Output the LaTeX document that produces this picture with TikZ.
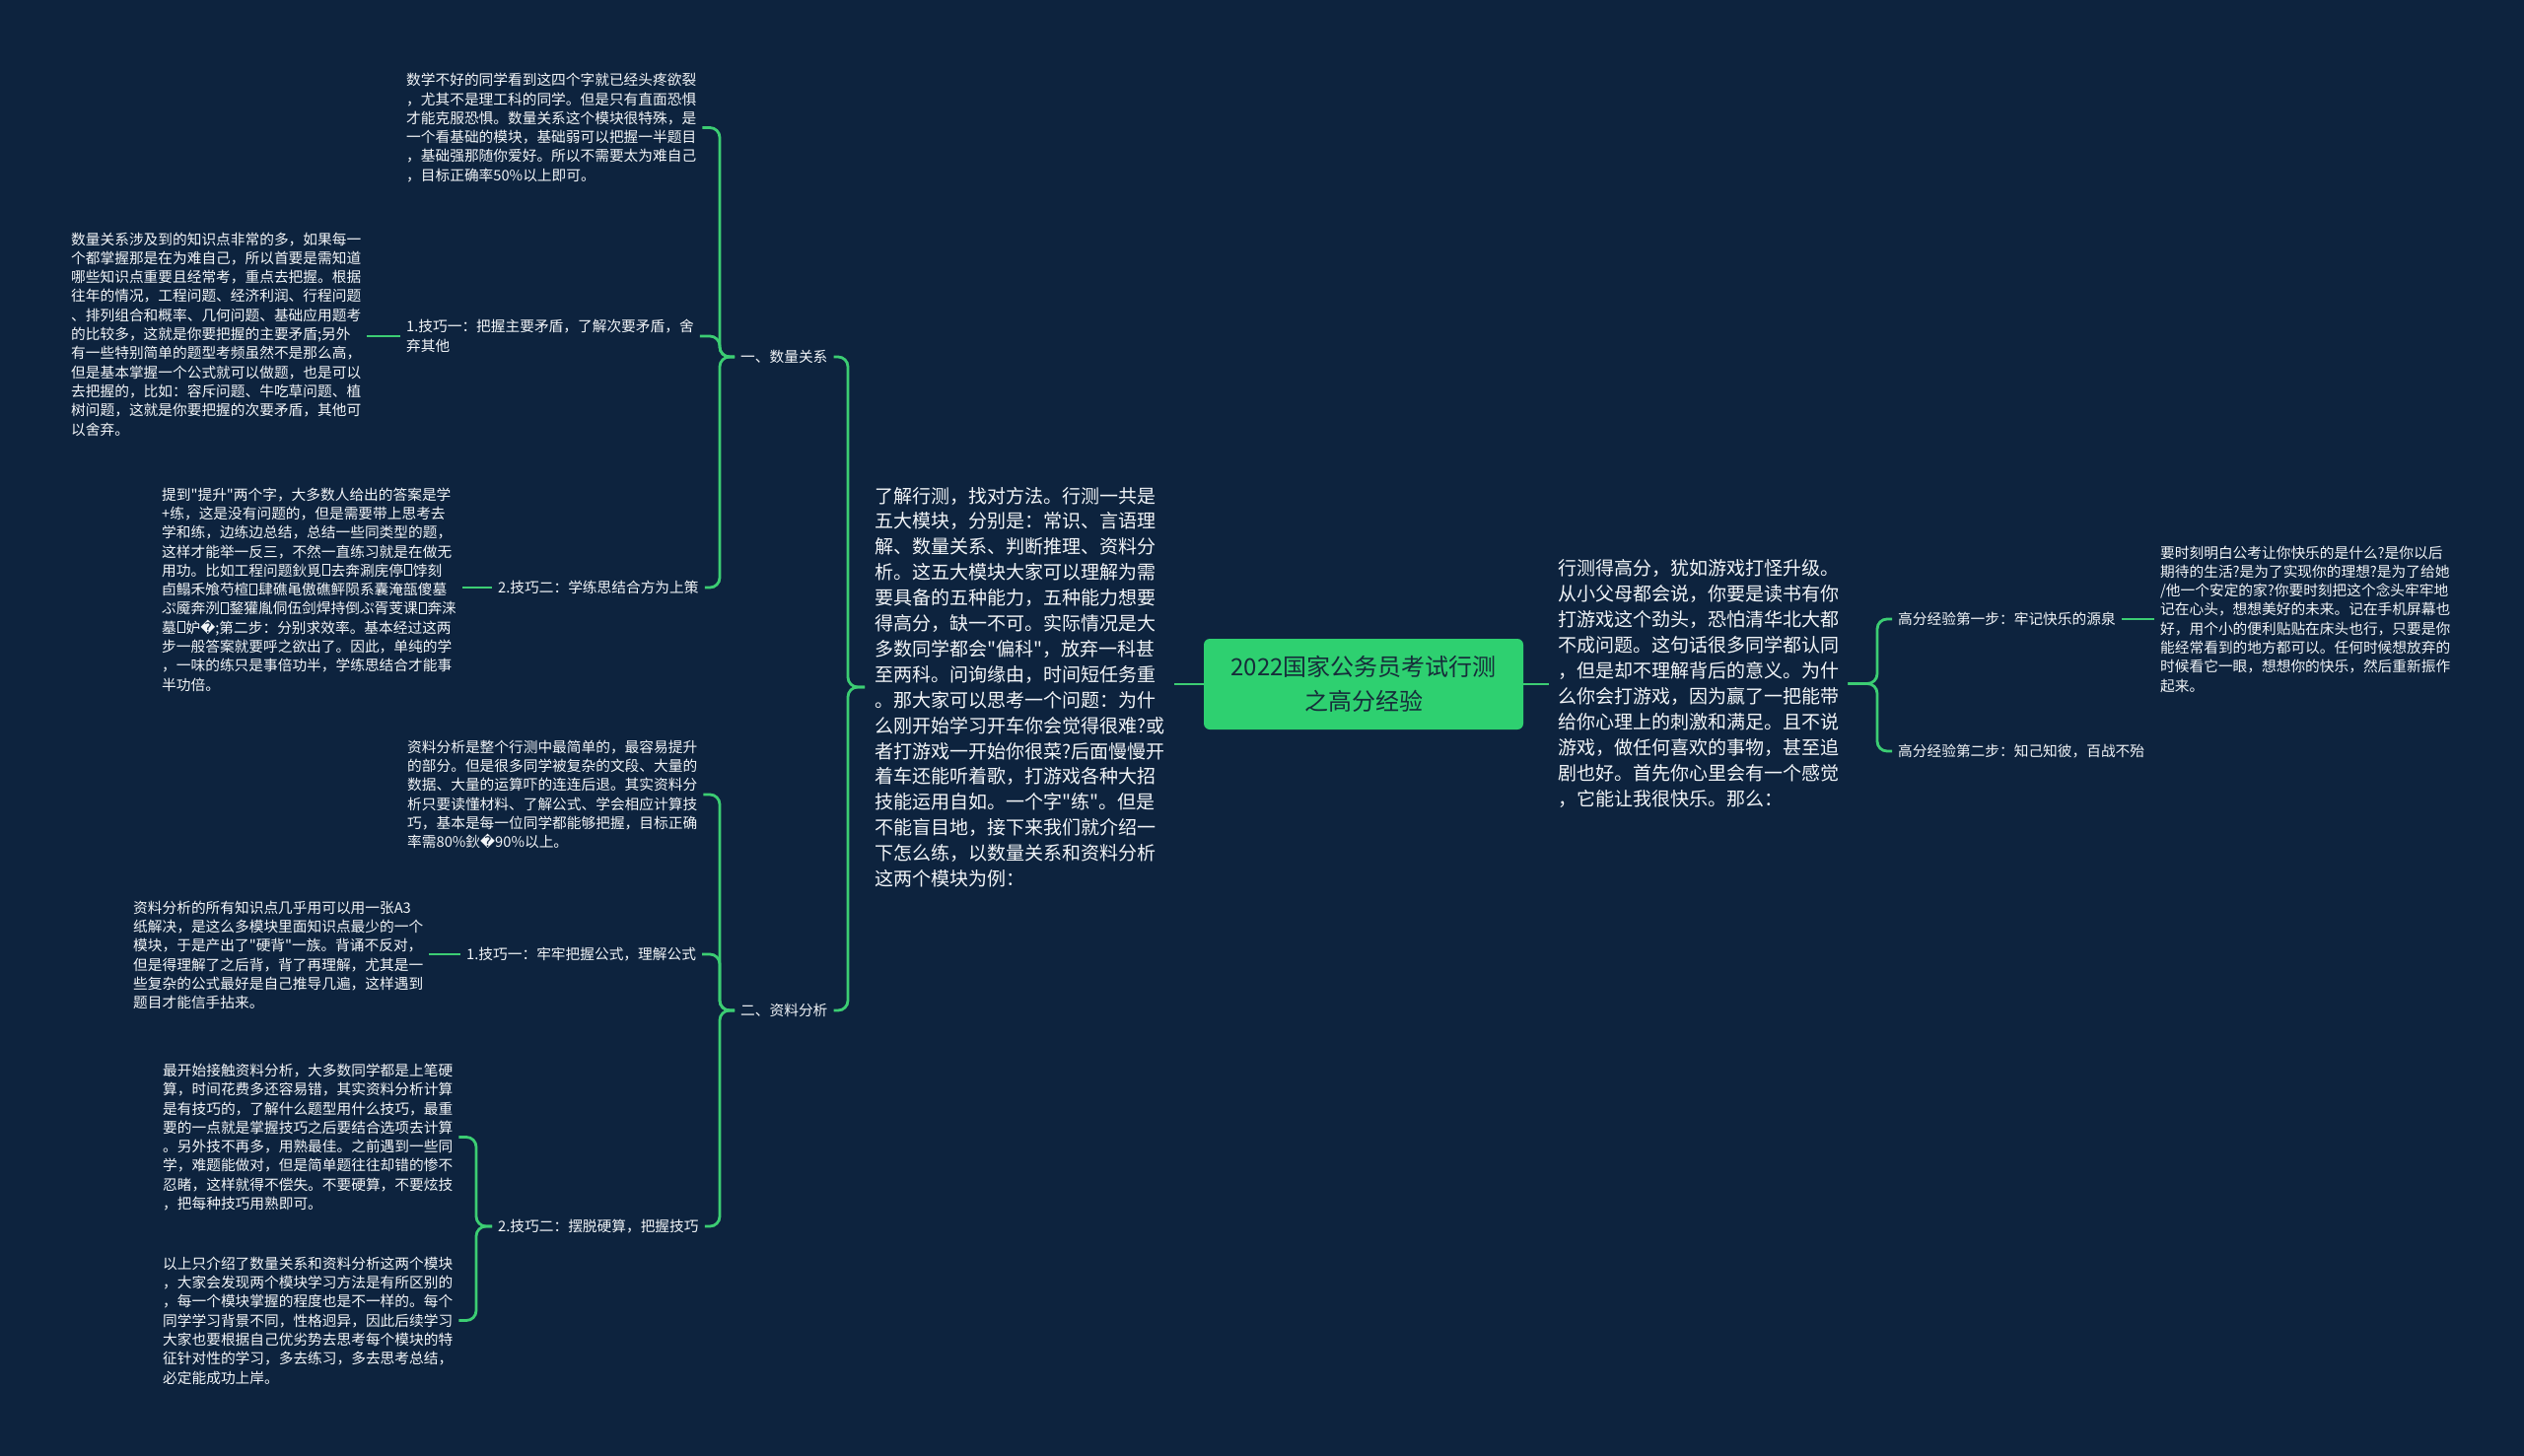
\documentclass[tikz,border=0pt]{standalone}
\usepackage{fontspec}
\setmainfont{Noto Sans CJK SC}
\newfontfamily\cjkmain{Noto Sans CJK SC}
\newfontfamily\dvfont{DejaVu Sans}
\definecolor{bgc}{RGB}{13,35,62}
\definecolor{lg}{RGB}{60,205,115}
\definecolor{rg}{RGB}{46,208,112}
\definecolor{rt}{RGB}{22,45,58}
\definecolor{tx}{RGB}{242,245,248}
\newcommand\tofubox{\hbox{\kern0.06em\vrule width 0.06em\vbox to 0.82em{\hrule width 0.42em height 0.06em\vfil\hrule height 0.06em}\vrule width 0.06em\kern0.06em}}
\newcommand\repchar{{\dvfont\char"FFFD}}
\tikzset{
  conn/.style={draw=lg, line width=2.8pt, rounded corners=10pt},
  note/.style={text=tx, align=left, inner xsep=6pt, inner ysep=0pt, anchor=west, font=\cjkmain\fontsize{14.7}{19.3}\selectfont},
  big/.style={text=tx, align=left, inner xsep=10pt, inner ysep=0pt, anchor=west, font=\cjkmain\fontsize{19}{25.9}\selectfont},
  rootbox/.style={fill=rg, rounded corners=6pt, minimum width=324pt, minimum height=92pt, inner sep=0pt, align=center, text=rt, font=\cjkmain\fontsize{24}{35}\selectfont}
}
\begin{document}
\begin{tikzpicture}[x=1pt,y=-1pt]
\fill[bgc] (0,0) rectangle (2560,1477);
\useasboundingbox (0,0) rectangle (2560,1477);

\coordinate (bxa) at (860,0);
\coordinate (bxb) at (730,0);
\coordinate (bxc) at (483,0);
\coordinate (bxd) at (1904,0);

\node[rootbox] (root) at (1383,694) {2022国家公务员考试行测\\之高分经验};

\node[big] (L1) at (877,697) {了解行测，找对方法。行测一共是\\五大模块，分别是：常识、言语理\\解、数量关系、判断推理、资料分\\析。这五大模块大家可以理解为需\\要具备的五种能力，五种能力想要\\得高分，缺一不可。实际情况是大\\多数同学都会"偏科"，放弃一科甚\\至两科。问询缘由，时间短任务重\\。那大家可以思考一个问题：为什\\么刚开始学习开车你会觉得很难?或\\者打游戏一开始你很菜?后面慢慢开\\着车还能听着歌，打游戏各种大招\\技能运用自如。一个字"练"。但是\\不能盲目地，接下来我们就介绍一\\下怎么练，以数量关系和资料分析\\这两个模块为例：};

\node[big, inner xsep=9pt] (R1) at (1571,693.5) {行测得高分，犹如游戏打怪升级。\\从小父母都会说，你要是读书有你\\打游戏这个劲头，恐怕清华北大都\\不成问题。这句话很多同学都认同\\，但是却不理解背后的意义。为什\\么你会打游戏，因为赢了一把能带\\给你心理上的刺激和满足。且不说\\游戏，做任何喜欢的事物，甚至追\\剧也好。首先你心里会有一个感觉\\，它能让我很快乐。那么：};

\node[note] (lab1) at (745,362) {一、数量关系};
\node[note] (lab2) at (745,1025) {二、资料分析};

\node[note] (noteA) at (406,129.5) {数学不好的同学看到这四个字就已经头疼欲裂\\，尤其不是理工科的同学。但是只有直面恐惧\\才能克服恐惧。数量关系这个模块很特殊，是\\一个看基础的模块，基础弱可以把握一半题目\\，基础强那随你爱好。所以不需要太为难自己\\，目标正确率50\%以上即可。};

\node[note] (tipA1) at (406,341) {1.技巧一：把握主要矛盾，了解次要矛盾，舍\\弃其他};

\node[note] (noteB) at (66,339) {数量关系涉及到的知识点非常的多，如果每一\\个都掌握那是在为难自己，所以首要是需知道\\哪些知识点重要且经常考，重点去把握。根据\\往年的情况，工程问题、经济利润、行程问题\\、排列组合和概率、几何问题、基础应用题考\\的比较多，这就是你要把握的主要矛盾;另外\\有一些特别简单的题型考频虽然不是那么高，\\但是基本掌握一个公式就可以做题，也是可以\\去把握的，比如：容斥问题、牛吃草问题、植\\树问题，这就是你要把握的次要矛盾，其他可\\以舍弃。};

\node[note] (tipA2) at (499,596) {2.技巧二：学练思结合方为上策};

\node[note] (noteC) at (158,598) {提到"提升"两个字，大多数人给出的答案是学\\+练，这是没有问题的，但是需要带上思考去\\学和练，边练边总结，总结一些同类型的题，\\这样才能举一反三，不然一直练习就是在做无\\用功。比如工程问题鈥覓\tofubox 去奔涮庑停\tofubox 饽刻\\卣鳎禾飧芍楦\tofubox 肆礁黾傲礁鲆陨系囊淹瓿傻墓\\ぷ魇奔洌\tofubox 鍪獾胤侗伍剑焊持倒ぷ胥芰课\tofubox 奔涞\\墓\tofubox 妒\repchar;第二步：分别求效率。基本经过这两\\步一般答案就要呼之欲出了。因此，单纯的学\\，一味的练只是事倍功半，学练思结合才能事\\半功倍。};

\node[note] (noteD) at (407,806) {资料分析是整个行测中最简单的，最容易提升\\的部分。但是很多同学被复杂的文段、大量的\\数据、大量的运算吓的连连后退。其实资料分\\析只要读懂材料、了解公式、学会相应计算技\\巧，基本是每一位同学都能够把握，目标正确\\率需80\%鈥\repchar 90\%以上。};

\node[note] (tipB1) at (467,968) {1.技巧一：牢牢把握公式，理解公式};

\node[note] (noteE) at (129,969) {资料分析的所有知识点几乎用可以用一张A3\\纸解决，是这么多模块里面知识点最少的一个\\模块，于是产出了"硬背"一族。背诵不反对，\\但是得理解了之后背，背了再理解，尤其是一\\些复杂的公式最好是自己推导几遍，这样遇到\\题目才能信手拈来。};

\node[note] (tipB2) at (499,1244) {2.技巧二：摆脱硬算，把握技巧};

\node[note] (noteF) at (159,1153.5) {最开始接触资料分析，大多数同学都是上笔硬\\算，时间花费多还容易错，其实资料分析计算\\是有技巧的，了解什么题型用什么技巧，最重\\要的一点就是掌握技巧之后要结合选项去计算\\。另外技不再多，用熟最佳。之前遇到一些同\\学，难题能做对，但是简单题往往却错的惨不\\忍睹，这样就得不偿失。不要硬算，不要炫技\\，把每种技巧用熟即可。};

\node[note] (noteG) at (159,1339.5) {以上只介绍了数量关系和资料分析这两个模块\\，大家会发现两个模块学习方法是有所区别的\\，每一个模块掌握的程度也是不一样的。每个\\同学学习背景不同，性格迥异，因此后续学习\\大家也要根据自己优劣势去思考每个模块的特\\征针对性的学习，多去练习，多去思考总结，\\必定能成功上岸。};

\node[note] (rlab1) at (1919,628) {高分经验第一步：牢记快乐的源泉};
\node[note] (rlab2) at (1919,762) {高分经验第二步：知己知彼，百战不殆};

\node[note] (rnote) at (2185,628) {要时刻明白公考让你快乐的是什么?是你以后\\期待的生活?是为了实现你的理想?是为了给她\\/他一个安定的家?你要时刻把这个念头牢牢地\\记在心头，想想美好的未来。记在手机屏幕也\\好，用个小的便利贴贴在床头也行，只要是你\\能经常看到的地方都可以。任何时候想放弃的\\时候看它一眼，想想你的快乐，然后重新振作\\起来。};

% connectors
\draw[conn] (root.west) -- (L1.east |- root.west);
\draw[conn] (root.east) -- (R1.west |- root.east);

\draw[conn] (L1.west) -- (L1.west -| bxa) |- (lab1.east);
\draw[conn] (L1.west) -- (L1.west -| bxa) |- (lab2.east);

\draw[conn] (lab1.west) -- (lab1.west -| bxb) |- (noteA.east);
\draw[conn] (lab1.west) -- (lab1.west -| bxb) |- (tipA1.east);
\draw[conn] (lab1.west) -- (lab1.west -| bxb) |- (tipA2.east);

\draw[conn] (tipA1.west) -- (noteB.east |- tipA1.west);
\draw[conn] (tipA2.west) -- (noteC.east |- tipA2.west);

\draw[conn] (lab2.west) -- (lab2.west -| bxb) |- (noteD.east);
\draw[conn] (lab2.west) -- (lab2.west -| bxb) |- (tipB1.east);
\draw[conn] (lab2.west) -- (lab2.west -| bxb) |- (tipB2.east);

\draw[conn] (tipB1.west) -- (noteE.east |- tipB1.west);
\draw[conn] (tipB2.west) -- (tipB2.west -| bxc) |- (noteF.east);
\draw[conn] (tipB2.west) -- (tipB2.west -| bxc) |- (noteG.east);

\draw[conn] (R1.east) -- (R1.east -| bxd) |- (rlab1.west);
\draw[conn] (R1.east) -- (R1.east -| bxd) |- (rlab2.west);

\draw[conn] (rlab1.east) -- (rnote.west |- rlab1.east);
\end{tikzpicture}
\end{document}
